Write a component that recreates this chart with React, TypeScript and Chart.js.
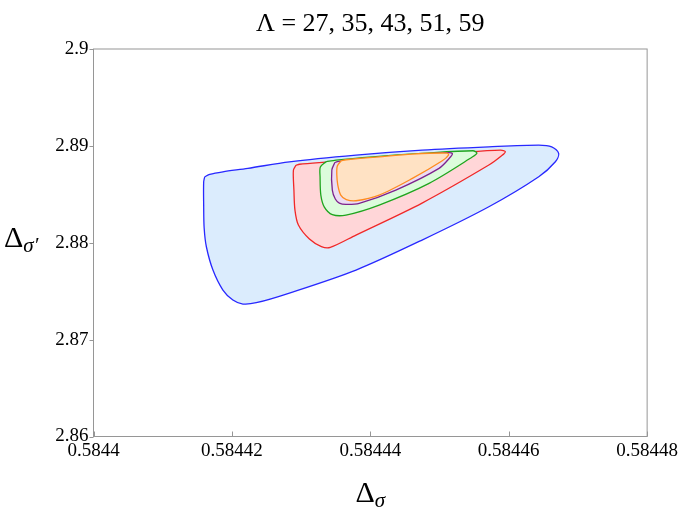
import React, { useEffect, useRef } from "react";
import { Chart, registerables } from "chart.js";

Chart.register(...registerables);

// Axis ticks
const xTicks = [0.5844, 0.58442, 0.58444, 0.58446, 0.58448];
const yTicks = [2.86, 2.87, 2.88, 2.89, 2.9];
const titleText = "Λ = 27, 35, 43, 51, 59";

// Contours (Λ = 27 blue, 35 red, 43 green, 51 purple, 59 orange)
const blueX = [0.58441607, 0.58441592, 0.58441592, 0.58441599, 0.58441631, 0.58441726, 0.5844187, 0.58442014, 0.58442159, 0.58442352, 0.58442831, 0.58443793, 0.58444748, 0.58445713, 0.58446434, 0.58446674, 0.58446722, 0.58446621, 0.58446434, 0.58445713, 0.58444748, 0.58443793, 0.58442831, 0.58442231, 0.5844187, 0.58441679];
const blueY = [2.886811, 2.886264, 2.883891, 2.881517, 2.879587, 2.877183, 2.875119, 2.874087, 2.873674, 2.873808, 2.874809, 2.877183, 2.880279, 2.883715, 2.886811, 2.888359, 2.889226, 2.889907, 2.890083, 2.889907, 2.889567, 2.889051, 2.888359, 2.887678, 2.887327, 2.887059];

const redX = [0.58442928, 0.58442889, 0.58442896, 0.58442911, 0.58442961, 0.5844312, 0.58443293, 0.58443422, 0.58443793, 0.58444748, 0.58445713, 0.58445901, 0.58445951, 0.58445882, 0.58445233, 0.58444272, 0.58443307, 0.58442976];
const redY = [2.888019, 2.887503, 2.885439, 2.883375, 2.881827, 2.880382, 2.879608, 2.879525, 2.880795, 2.884097, 2.888019, 2.888999, 2.889412, 2.889567, 2.889288, 2.888813, 2.888297, 2.888101];

const greenX = [0.5844336, 0.58443278, 0.58443274, 0.58443285, 0.58443336, 0.58443451, 0.58443648, 0.58444128, 0.58444849, 0.58445473, 0.5844554, 0.58445483, 0.58444752, 0.58444032, 0.58443504];
const greenY = [2.888359, 2.887812, 2.88678, 2.884923, 2.883684, 2.88291, 2.882859, 2.883891, 2.88613, 2.888844, 2.889257, 2.889495, 2.889226, 2.888875, 2.888535];

const purpleX = [0.58443487, 0.58443444, 0.58443451, 0.58443494, 0.58443552, 0.58443648, 0.5844384, 0.58444369, 0.58444993, 0.58445161, 0.58445184, 0.58445122, 0.58444513, 0.58443793, 0.58443523];
const purpleY = [2.888277, 2.887503, 2.885439, 2.88451, 2.884097, 2.883963, 2.884066, 2.885439, 2.887678, 2.888875, 2.889226, 2.889309, 2.889051, 2.888607, 2.88838];

const orangeX = [0.58443581, 0.58443523, 0.58443516, 0.5844353, 0.58443573, 0.58443653, 0.58443793, 0.58444128, 0.58444608, 0.5844504, 0.5844513, 0.58445112, 0.58444608, 0.58444128, 0.58443648];
const orangeY = [2.888483, 2.887916, 2.886987, 2.885955, 2.884923, 2.884458, 2.884335, 2.884923, 2.886646, 2.888463, 2.889051, 2.889257, 2.889154, 2.888875, 2.888566];

const FONT = '"Liberation Serif", "DejaVu Serif", serif';

function loop(xs: number[], ys: number[]) {
  const pts = xs.map((x, i) => ({ x, y: ys[i] }));
  pts.push({ ...pts[0] });
  return pts;
}

const decorPlugin = {
  id: "decor",
  afterDraw(chart: any) {
    const { ctx, chartArea: a, scales } = chart;
    ctx.save();
    // frame
    ctx.strokeStyle = "rgb(150,150,150)";
    ctx.lineWidth = 1;
    ctx.strokeRect(a.left, a.top, a.right - a.left, a.bottom - a.top);
    // ticks
    ctx.beginPath();
    xTicks.forEach((v) => {
      const px = Math.round(scales.x.getPixelForValue(v)) + 0.5;
      ctx.moveTo(px, a.bottom);
      ctx.lineTo(px, a.bottom - 5);
    });
    yTicks.forEach((v) => {
      const py = Math.round(scales.y.getPixelForValue(v)) + 0.5;
      ctx.moveTo(a.left, py);
      ctx.lineTo(a.left - 4, py);
    });
    ctx.stroke();
    // title
    ctx.fillStyle = "#000";
    ctx.textBaseline = "alphabetic";
    ctx.textAlign = "center";
    ctx.font = `26px ${FONT}`;
    ctx.fillText(titleText, (a.left + a.right) / 2, 31);
    // x axis label
    ctx.textAlign = "left";
    ctx.font = `30px ${FONT}`;
    const dW = ctx.measureText("Δ").width;
    ctx.font = `italic 21px ${FONT}`;
    const sW = ctx.measureText("σ").width;
    const cx = (a.left + a.right) / 2;
    const x0 = cx - (dW + sW) / 2;
    ctx.font = `30px ${FONT}`;
    ctx.fillText("Δ", x0, 502);
    ctx.font = `italic 21px ${FONT}`;
    ctx.fillText("σ", x0 + dW, 507);
    // y axis label
    ctx.font = `30px ${FONT}`;
    ctx.fillText("Δ", 4, 247);
    ctx.font = `italic 21px ${FONT}`;
    ctx.fillText("σ′", 4 + dW, 252);
    ctx.restore();
  },
};

export default function App() {
  const ref = useRef<HTMLCanvasElement | null>(null);
  useEffect(() => {
    if (!ref.current) return;
    const mk = (data: any, border: string, fill: string, order: number) => ({
      data,
      borderColor: border,
      backgroundColor: fill,
      borderWidth: 1.3,
      pointRadius: 0,
      showLine: true,
      fill: "shape",
      tension: 0.3,
      order,
    });
    const chart = new Chart(ref.current, {
      type: "scatter",
      data: {
        datasets: [
          mk(loop(blueX, blueY), "rgb(40,40,255)", "rgb(219,236,253)", 5),
          mk(loop(redX, redY), "rgb(240,40,40)", "rgb(255,214,216)", 4),
          mk(loop(greenX, greenY), "rgb(30,165,30)", "rgb(220,252,220)", 3),
          mk(loop(purpleX, purpleY), "rgb(125,35,140)", "rgb(236,220,243)", 2),
          mk(loop(orangeX, orangeY), "rgb(255,140,30)", "rgb(255,226,196)", 1),
        ] as any,
      },
      options: {
        animation: false,
        responsive: false,
        maintainAspectRatio: false,
        layout: { padding: { top: 49, right: 32.5, left: 0, bottom: 0 } },
        plugins: {
          legend: { display: false },
          tooltip: { enabled: false },
          title: { display: false },
        },
        scales: {
          x: {
            type: "linear",
            min: 0.5844,
            max: 0.58448,
            afterBuildTicks: (s: any) => {
              s.ticks = xTicks.map((v) => ({ value: v }));
            },
            afterFit: (s: any) => {
              s.height = 78.5;
            },
            grid: { display: false, drawTicks: false, tickLength: 0 },
            border: { display: false },
            ticks: {
              padding: 3,
              maxRotation: 0,
              autoSkip: false,
              color: "#000",
              font: { family: FONT, size: 19 },
              callback: (v: any) => Number(Number(v).toFixed(5)).toString(),
            },
          },
          y: {
            type: "linear",
            min: 2.86,
            max: 2.9,
            afterBuildTicks: (s: any) => {
              s.ticks = yTicks.map((v) => ({ value: v }));
            },
            afterFit: (s: any) => {
              s.width = 93.5;
            },
            grid: { display: false, drawTicks: false, tickLength: 0 },
            border: { display: false },
            ticks: {
              padding: 5,
              autoSkip: false,
              color: "#000",
              font: { family: FONT, size: 19 },
              callback: (v: any) => Number(Number(v).toFixed(2)).toString(),
            },
          },
        },
      } as any,
      plugins: [decorPlugin],
    });
    return () => chart.destroy();
  }, []);
  return (
    <div style={{ position: "fixed", left: 0, top: 0, width: 681, height: 515, background: "#fff" }}>
      <canvas ref={ref} width={681} height={515} style={{ width: 681, height: 515 }} />
    </div>
  );
}
